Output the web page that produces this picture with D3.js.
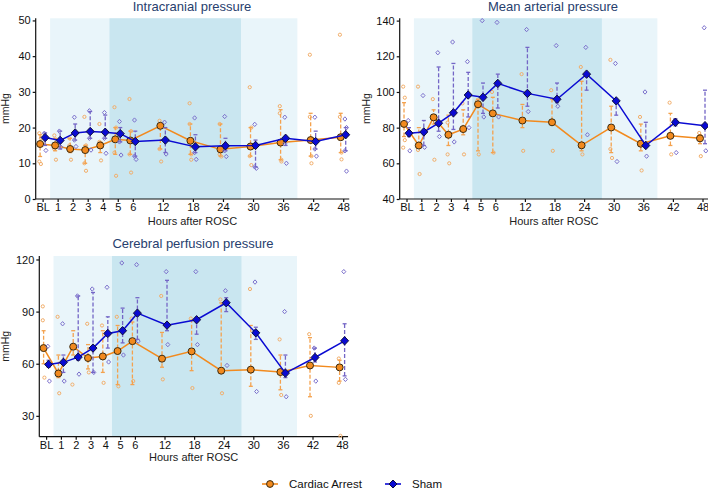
<!DOCTYPE html>
<html><head><meta charset="utf-8">
<script src="https://cdn.jsdelivr.net/npm/d3@7"></script>
<style>body{margin:0;background:#fff}svg{display:block;font-family:"Liberation Sans",Arial,sans-serif}</style>
</head><body><svg id="c" width="708" height="489"></svg>
<script>
const timeLabels = ["BL","1","2","3","4","5","6","12","18","24","30","36","42","48"];
// shaded phases in time-index units
const lightBand = [0.5, 16.95];
const darkBand = [4.45, 13.2];

// ICP
const icpCA_med = [15.4,15.0,14.0,13.7,15.0,16.7,16.4,20.5,16.3,13.9,14.7,15.8,16.5,17.3];
const icpCA_lo  = [11.9,13.5,13.0,10.0,13.0,12.5,12.5,14.0,12.5,12.0,12.0,11.0,12.0,13.0];
const icpCA_hi  = [18.0,17.0,17.0,15.0,16.0,20.0,19.0,21.0,21.0,21.0,20.0,25.0,24.0,24.0];
const icpCA_pts = [[18.4,9.8,10.5,17],[17.8,11,14],[17,11,15],[23,7.9,10,15],[21,10.8,16],[25.7,6.5,13,20],[28,7.4,12.5,19],[21.9,10.5,14],[26.8,11,21,12.5],[21,11.9,12.5],[31.3,9.5,12,20],[26,11,24,10.5],[40.4,10,23,12],[46,11.1,23,13]];
const icpSh_med = [17.2,16.4,18.5,18.9,18.7,18.3,16.1,16.5,14.6,14.9,15.0,17.0,16.1,18.0];
const icpSh_lo  = [15.0,14.0,16.5,17.0,17.0,16.0,12.0,13.0,13.0,13.5,9.0,15.0,14.0,13.5];
const icpSh_hi  = [18.5,19.0,21.0,24.5,23.5,20.0,19.0,20.0,18.0,17.0,16.5,17.0,19.0,20.0];
const icpSh_pts = [[18.4,13.6],[19,14.5],[22.9,14.7,16.5],[24.7,13.7,17],[24.2,12.8,17],[21.7,12.3,16],[22.1,11.1,12],[21.5,12.6],[22.7,11.1,13],[23.1,11.9,13.5],[20.9,8.6,9],[22.9,10,15.5],[22.9,12,14],[22.4,7.8,13.5,20]];

// MAP
const mapCA_med = [82.1,70.0,85.8,76.0,79.2,93.1,88.0,84.0,83.0,70.1,80.1,71.0,75.4,74.0];
const mapCA_lo  = [75,70,82,70,76,67,66,80,84,67,66,67,70,71];
const mapCA_hi  = [94,80,90,87,90,96,97,93,96,106,92,82,88,76];
const mapCA_pts = [[103,96.8,68.8,73],[103,54,67.5],[96,62],[82.8,60,65],[93.6,65],[95,65],[100,66],[110,67],[101,67],[114,65],[118,63,68],[86,56],[94,65],[77,64]];
const mapSh_med = [76.9,77.6,82.5,88.3,98.3,97.0,104.8,99.2,95.9,110.0,95.0,70.0,83.0,81.1];
const mapSh_lo  = [75,70,78,79,86,88,91,92,94,101,87,70,81,71];
const mapSh_hi  = [80,84,114,116,111,105,110,125,105,110,95,83,85,101];
const mapSh_pts = [[84,67],[98,69],[122,75],[128,72],[117,80],[140,86],[139,86],[135,89],[126,92],[125,76],[116,61],[100,64],[84,66],[136,67]];

// CPP
const cppCA_med = [69.0,54.4,69.8,63.3,64.2,67.3,73.0,62.9,67.1,56.0,56.6,55.2,59.0,57.9];
const cppCA_lo  = [60,52,65,57,55,48,48,58,56,55,47,45,41,50];
const cppCA_hi  = [79,65,79,71,79,82,84,78,85,95,82,65,75,62];
const cppCA_pts = [[93,52,85],[87,43],[48],[83,55],[82,49],[87,47],[86,50],[99,51],[86,46],[97,43],[103,57],[74,42],[77,30],[63,18.5,49]];
const cppSh_med = [59.6,60.8,63.8,69.0,77.4,79.0,89.1,82.2,85.3,95.1,77.8,54.6,63.6,73.2];
const cppSh_lo  = [58,55,62,55,69,72,74,79,77,90,74,52,61,53];
const cppSh_hi  = [62,65,99,101,87,92,98,108,86,98,81,65,69,83];
const cppSh_pts = [[70,50],[83,50],[99,54],[103,55],[104,61],[118,65],[117,73],[113,71],[113,71],[102,59],[107,44],[90,41],[69,50],[113,51]];

const yTicksICP = [0,10,20,30,40,50];
const yTicksMAP = [40,60,80,100,120,140];
const yTicksCPP = [30,60,90,120];

const C_ORANGE = "#F28A1E", C_BLUE = "#0A0AD2";
const C_OR_BAR = "#F4A24E", C_BL_BAR = "#7466C6";
const C_OR_PT = "#F2AE6A", C_BL_PT = "#7C70CC";

const svg = d3.select("#c");
const posOf = i => i <= 6 ? i : 6 + (i - 6) * 2;
const diamond = (w, h) => `M0,${-h}L${w},0L0,${h}L${-w},0Z`;

function panel(o) {
  const g = svg.append("g");
  const x = d3.scaleLinear().domain([-0.46, 20.4]).range([o.left, o.left + 20.86 * o.unit]);
  const y = d3.scaleLinear().domain(o.ydom).range([o.bottom, o.top]);
  const xr = Math.min(x(20.4), 708);
  // bands
  g.append("rect").attr("x", x(lightBand[0])).attr("y", o.top).attr("width", x(lightBand[1]) - x(lightBand[0])).attr("height", o.bottom - o.top).attr("fill", "#E9F5FA");
  g.append("rect").attr("x", x(darkBand[0])).attr("y", o.top).attr("width", x(darkBand[1]) - x(darkBand[0])).attr("height", o.bottom - o.top).attr("fill", "#C9E6F0");
  // axes
  const ya = d3.axisLeft(y).tickValues(o.yticks).tickSize(3).tickPadding(2);
  const yg = g.append("g").attr("transform", `translate(${o.left},0)`).call(ya);
  yg.select(".domain").attr("d", `M-0,${o.top}V${o.bottom}`);
  const xa = d3.axisBottom(x).tickValues(timeLabels.map((d, i) => posOf(i))).tickFormat((d, i) => timeLabels[i]).tickSize(3).tickPadding(1.5);
  const xg = g.append("g").attr("transform", `translate(0,${o.bottom})`).call(xa);
  xg.select(".domain").attr("d", `M${o.left},0H${xr}`);
  g.selectAll(".tick text").attr("font-size", 11).attr("fill", "#111").attr("font-family", "Liberation Sans, Arial, sans-serif");
  g.selectAll(".domain, .tick line").attr("stroke", "#111").attr("stroke-width", 1.2);

  g.append("text").attr("x", (o.left + xr) / 2).attr("y", o.bottom + o.xlabDy).attr("text-anchor", "middle").attr("font-size", 11).attr("fill", "#222").text("Hours after ROSC");
  g.append("text").attr("transform", `translate(${o.ylabX},${(o.top + o.bottom) / 2}) rotate(-90)`).attr("text-anchor", "middle").attr("font-size", 10.5).attr("fill", "#222").text("mmHg");
  g.append("text").attr("x", o.titleX).attr("y", o.titleY).attr("text-anchor", "middle").attr("font-size", 13).attr("fill", "#27406E").text(o.title);

  const series = [
    {med: o.caMed, lo: o.caLo, hi: o.caHi, pts: o.caPts, dx: -2.5, line: C_ORANGE, bar: C_OR_BAR, pt: C_OR_PT, shape: "circle"},
    {med: o.shMed, lo: o.shLo, hi: o.shHi, pts: o.shPts, dx: 2.5, line: C_BLUE, bar: C_BL_BAR, pt: C_BL_PT, shape: "diamond"}
  ];
  series.forEach(s => {
    const gs = g.append("g");
    // individual points
    s.pts.forEach((arr, i) => {
      arr.forEach((v, k) => {
        const px = x(posOf(i)) + s.dx + (k % 2 ? 1 : -1) * 0.8;
        if (s.shape === "circle") {
          gs.append("circle").attr("cx", px).attr("cy", y(v)).attr("r", 1.6).attr("fill", "none").attr("stroke", s.pt).attr("stroke-width", 1);
        } else {
          gs.append("path").attr("d", diamond(2, 2.2)).attr("transform", `translate(${px},${y(v)})`).attr("fill", "none").attr("stroke", s.pt).attr("stroke-width", 1);
        }
      });
    });
    // error bars
    s.med.forEach((m, i) => {
      const px = x(posOf(i)) + s.dx;
      gs.append("line").attr("x1", px).attr("x2", px).attr("y1", y(s.lo[i])).attr("y2", y(s.hi[i])).attr("stroke", s.bar).attr("stroke-width", 1.3).attr("stroke-dasharray", "4,2");
      [s.lo[i], s.hi[i]].forEach(v => gs.append("line").attr("x1", px - 2).attr("x2", px + 2).attr("y1", y(v)).attr("y2", y(v)).attr("stroke", s.bar).attr("stroke-width", 1.3));
    });
    // median line
    const ln = d3.line().x((d, i) => x(posOf(i)) + s.dx).y(d => y(d));
    gs.append("path").attr("d", ln(s.med)).attr("fill", "none").attr("stroke", s.line).attr("stroke-width", 1.5);
    s.med.forEach((m, i) => {
      const px = x(posOf(i)) + s.dx;
      if (s.shape === "circle") {
        gs.append("circle").attr("cx", px).attr("cy", y(m)).attr("r", 3.5).attr("fill", s.line).attr("stroke", "#3a2a10").attr("stroke-width", 1);
      } else {
        gs.append("path").attr("d", diamond(4, 4.2)).attr("transform", `translate(${px},${y(m)})`).attr("fill", s.line).attr("stroke", "#10103a").attr("stroke-width", 1);
      }
    });
  });
}

panel({left: 35.7, unit: 15.03, top: 18.3, bottom: 199, ydom: [0, 50.6], yticks: yTicksICP, ylabX: 9, xlabDy: 26, title: "Intracranial pressure", titleX: 192, titleY: 10.5,
  caMed: icpCA_med, caLo: icpCA_lo, caHi: icpCA_hi, caPts: icpCA_pts, shMed: icpSh_med, shLo: icpSh_lo, shHi: icpSh_hi, shPts: icpSh_pts});
panel({left: 399.7, unit: 14.8, top: 18.3, bottom: 199, ydom: [40, 141.3], yticks: yTicksMAP, ylabX: 370, xlabDy: 26, title: "Mean arterial pressure", titleX: 553, titleY: 10.5,
  caMed: mapCA_med, caLo: mapCA_lo, caHi: mapCA_hi, caPts: mapCA_pts, shMed: mapSh_med, shLo: mapSh_lo, shHi: mapSh_hi, shPts: mapSh_pts});
panel({left: 39.3, unit: 14.8, top: 256, bottom: 436.7, ydom: [18, 122], yticks: yTicksCPP, ylabX: 9, xlabDy: 24.5, title: "Cerebral perfusion pressure", titleX: 193, titleY: 248,
  caMed: cppCA_med, caLo: cppCA_lo, caHi: cppCA_hi, caPts: cppCA_pts, shMed: cppSh_med, shLo: cppSh_lo, shHi: cppSh_hi, shPts: cppSh_pts});

// legend
const leg = svg.append("g");
const legItems = [{label: "Cardiac Arrest", c: C_ORANGE, shape: "circle", x: 270}, {label: "Sham", c: C_BLUE, shape: "diamond", x: 393}];
legItems.forEach(d => {
  leg.append("line").attr("x1", d.x - 8).attr("x2", d.x + 8).attr("y1", 484).attr("y2", 484).attr("stroke", d.c).attr("stroke-width", 1.6);
  if (d.shape === "circle") leg.append("circle").attr("cx", d.x).attr("cy", 484).attr("r", 3.4).attr("fill", d.c).attr("stroke", "#3a2a10");
  else leg.append("path").attr("d", diamond(4, 4)).attr("transform", `translate(${d.x},484)`).attr("fill", d.c).attr("stroke", "#10103a");
  leg.append("text").attr("x", d.x + 19).attr("y", 488).attr("font-size", 11.5).attr("fill", "#111").text(d.label);
});
</script></body></html>
